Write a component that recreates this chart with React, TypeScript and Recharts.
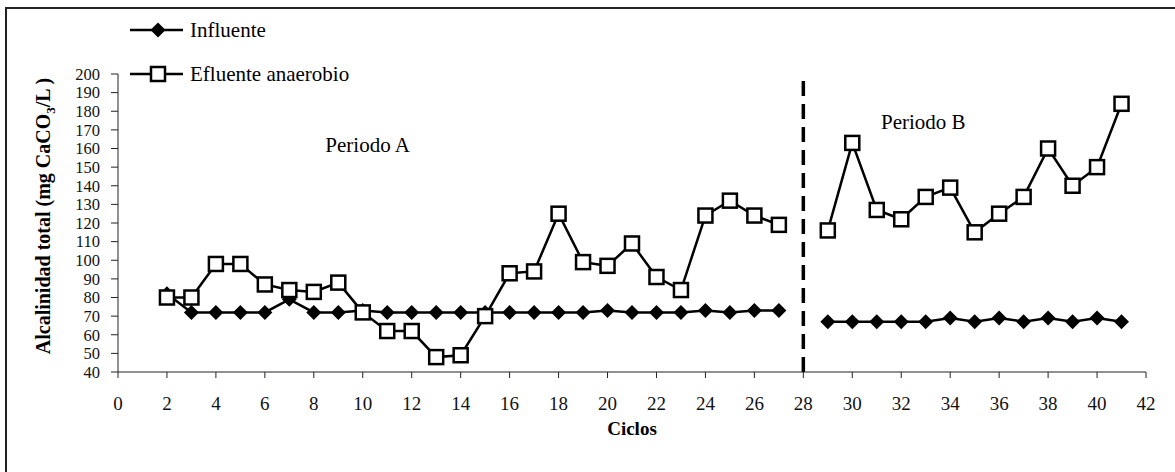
import React from "react";
import {
  LineChart,
  Line,
  XAxis,
  YAxis,
  ReferenceLine,
  ReferenceDot,
} from "recharts";

// ciclos 2..41, ciclo 28 is the break between periods
const ciclos = [2, 3, 4, 5, 6, 7, 8, 9, 10, 11, 12, 13, 14, 15, 16, 17, 18, 19, 20, 21, 22, 23, 24, 25, 26, 27, 28, 29, 30, 31, 32, 33, 34, 35, 36, 37, 38, 39, 40, 41];
const influente = [82, 72, 72, 72, 72, 79, 72, 72, 73, 72, 72, 72, 72, 72, 72, 72, 72, 72, 73, 72, 72, 72, 73, 72, 73, 73, null, 67, 67, 67, 67, 67, 69, 67, 69, 67, 69, 67, 69, 67];
const efluente = [80, 80, 98, 98, 87, 84, 83, 88, 72, 62, 62, 48, 49, 70, 93, 94, 125, 99, 97, 109, 91, 84, 124, 132, 124, 119, null, 116, 163, 127, 122, 134, 139, 115, 125, 134, 160, 140, 150, 184];
const xTicks = [0, 2, 4, 6, 8, 10, 12, 14, 16, 18, 20, 22, 24, 26, 28, 30, 32, 34, 36, 38, 40, 42];
const yTicks = [40, 50, 60, 70, 80, 90, 100, 110, 120, 130, 140, 150, 160, 170, 180, 190, 200];

const data = ciclos.map((c, i) => ({ ciclo: c, influente: influente[i], efluente: efluente[i] }));

const FONT = "Liberation Serif, Times New Roman, serif";

const Diamond = (props: any) => {
  const { cx, cy } = props;
  if (cx == null || cy == null || props.value == null) return null;
  const s = 7.5;
  return <polygon points={`${cx},${cy - s} ${cx + s},${cy} ${cx},${cy + s} ${cx - s},${cy}`} fill="#000" />;
};

const Square = (props: any) => {
  const { cx, cy } = props;
  if (cx == null || cy == null || props.value == null) return null;
  return <rect x={cx - 7} y={cy - 7} width={14} height={14} fill="#fff" stroke="#000" strokeWidth={2.5} />;
};

const LegendBox = () => (
  <svg width={260} height={100} style={{ fontFamily: FONT }}>
    <line x1={0} y1={22} x2={53} y2={22} stroke="#000" strokeWidth={2.5} />
    <polygon points="28,14.5 35.5,22 28,29.5 20.5,22" fill="#000" />
    <text x={60} y={29} fontSize={21} fill="#000" fontFamily={FONT}>Influente</text>
    <line x1={0} y1={66} x2={53} y2={66} stroke="#000" strokeWidth={2.5} />
    <rect x={21} y={59} width={14} height={14} fill="#fff" stroke="#000" strokeWidth={2.5} />
    <text x={60} y={73} fontSize={21} fill="#000" fontFamily={FONT}>Efluente anaerobio</text>
  </svg>
);

const YLabel = () => (
  <text
    x={0}
    y={0}
    transform="translate(50, 216) rotate(-90)"
    textAnchor="middle"
    fontFamily={FONT}
    fontWeight="bold"
    fontSize={20}
    fill="#000"
  >
    Alcalinidad total (mg CaCO
    <tspan fontSize={13} dy={5}>3</tspan>
    <tspan dy={-5}>/L )</tspan>
  </text>
);

export default function App() {
  return (
    <div style={{ position: "absolute", left: 0, top: 0, width: 1175, height: 472, overflow: "hidden", background: "#fff", fontFamily: FONT }}>
      <div style={{ position: "absolute", left: 5, top: 7, width: 1175, height: 472, borderLeft: "2px solid #222", borderTop: "2px solid #222" }} />
      <div style={{ position: "absolute", left: 0, top: 0 }}>
        <LineChart
          width={1175}
          height={472}
          data={data}
          margin={{ top: 74, right: 29, left: 58, bottom: 70 }}
          style={{ fontFamily: FONT }}
        >
          <XAxis
            dataKey="ciclo"
            type="number"
            domain={[0, 42]}
            ticks={xTicks}
            interval={0}
            tickSize={6}
            tickMargin={19}
            height={30}
            stroke="#222"
            tick={{ fontSize: 19, fill: "#111", fontFamily: FONT }}
            label={{ value: "Ciclos", position: "insideBottom", offset: -33, fontSize: 19, fontWeight: "bold", fill: "#000", fontFamily: FONT }}
          />
          <YAxis
            type="number"
            domain={[40, 200]}
            ticks={yTicks}
            interval={0}
            width={60}
            tickSize={7}
            tickMargin={11}
            stroke="#222"
            tick={{ fontSize: 16.5, fill: "#111", fontFamily: FONT }}
            label={{ content: () => <YLabel /> }}
          />
          <ReferenceLine x={28} stroke="#000" strokeWidth={3.5} strokeDasharray="15 8" />
          <ReferenceDot
            x={10.2}
            y={162}
            r={0}
            label={{ value: "Periodo A", position: "center", fontSize: 21, fill: "#000", fontFamily: FONT }}
          />
          <ReferenceDot
            x={32.9}
            y={174.5}
            r={0}
            label={{ value: "Periodo B", position: "center", fontSize: 21, fill: "#000", fontFamily: FONT }}
          />
          <Line
            dataKey="influente"
            name="Influente"
            stroke="#000"
            strokeWidth={2.5}
            dot={<Diamond />}
            activeDot={false}
            connectNulls={false}
            isAnimationActive={false}
          />
          <Line
            dataKey="efluente"
            name="Efluente anaerobio"
            stroke="#000"
            strokeWidth={2.5}
            dot={<Square />}
            activeDot={false}
            connectNulls={false}
            isAnimationActive={false}
          />
        </LineChart>
      </div>
      <div style={{ position: "absolute", left: 130, top: 8 }}>
        <LegendBox />
      </div>
    </div>
  );
}
